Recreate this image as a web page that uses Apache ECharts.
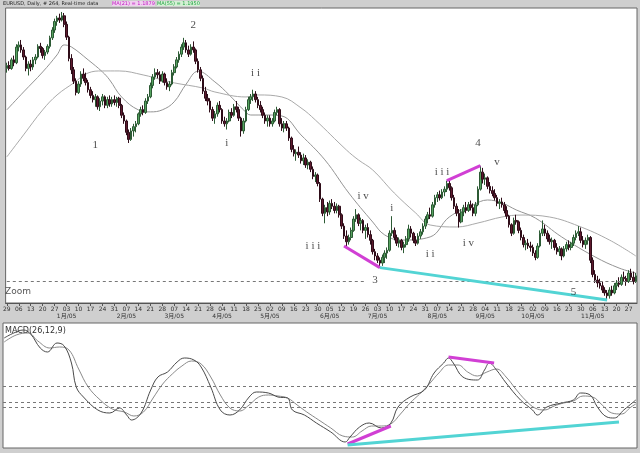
<!DOCTYPE html>
<html><head><meta charset="utf-8">
<script src="https://cdn.jsdelivr.net/npm/echarts@6/dist/echarts.min.js"></script>
<style>html,body{margin:0;padding:0;background:#cfcfcf}#c{width:640px;height:453px}</style>
</head><body><div id="c"></div><script>
// weekly tick labels (one per 5 bars) and month labels
const weekLabels = ['29','06','13','20','27','03','10','17','24','31','07','14','21','28','07','14','21','28','04','11','18','25','02','09','16','23','30','05','12','19','26','03','10','17','24','31','07','14','21','28','04','11','18','25','02','09','16','23','30','06','13','20','27'];
const monthWeeks = [5,10,14,18,22,27,31,36,40,44,49];
const monthNames = ['1月/05','2月/05','3月/05','4月/05','5月/05','6月/05','7月/05','8月/05','9月/05','10月/05','11月/05'];

const opens = [1.3270,1.3290,1.3270,1.3330,1.3310, 1.3420,1.3435,1.3400,1.3350,1.3270, 1.3300,1.3280,1.3330,1.3350,1.3425, 1.3410,1.3360,1.3385,1.3425,1.3485, 1.3540,1.3600,1.3625,1.3610,1.3640, 1.3580,1.3490,1.3340,1.3260,1.3180, 1.3100,1.3160,1.3230,1.3200,1.3170, 1.3120,1.3080,1.3050,1.3070,1.3000, 1.3040,1.3070,1.3010,1.3050,1.3020, 1.3050,1.3030,1.3060,1.3010,1.2940, 1.2900,1.2820,1.2770,1.2830,1.2860, 1.2880,1.2950,1.2980,1.2960,1.3040, 1.3070,1.3150,1.3210,1.3240,1.3225, 1.3180,1.3230,1.3170,1.3140,1.3160, 1.3240,1.3280,1.3330,1.3370,1.3420, 1.3450,1.3400,1.3370,1.3420,1.3400, 1.3320,1.3260,1.3200,1.3110,1.3060, 1.3040,1.2980,1.2920,1.2950,1.3010, 1.2980,1.2900,1.2880,1.2900,1.2960, 1.2940,1.3000,1.2980,1.2920,1.2830, 1.2900,1.2980,1.3050,1.3070,1.3090, 1.3050,1.3010,1.2980,1.2940,1.2900, 1.2920,1.2880,1.2900,1.2960,1.2980, 1.2880,1.2850,1.2880,1.2850,1.2780, 1.2700,1.2670,1.2680,1.2660,1.2620, 1.2640,1.2590,1.2610,1.2560,1.2510, 1.2520,1.2460,1.2350,1.2250,1.2290, 1.2260,1.2320,1.2300,1.2270,1.2300, 1.2240,1.2160,1.2090,1.2050,1.2080, 1.2130,1.2210,1.2240,1.2180,1.2200, 1.2130,1.2150,1.2100,1.2060,1.1980, 1.1950,1.1920,1.1900,1.1940,1.1970, 1.1990,1.2110,1.2130,1.2080,1.2040, 1.2060,1.2010,1.2030,1.2070,1.2140, 1.2110,1.2060,1.2040,1.2090,1.2120, 1.2160,1.2210,1.2240,1.2230,1.2310, 1.2360,1.2380,1.2360,1.2400,1.2420, 1.2460,1.2430,1.2360,1.2300,1.2250, 1.2190,1.2260,1.2290,1.2270,1.2310, 1.2290,1.2250,1.2310,1.2420,1.2540, 1.2490,1.2500,1.2440,1.2410,1.2390, 1.2360,1.2320,1.2330,1.2310,1.2270, 1.2230,1.2170,1.2110,1.2200,1.2190, 1.2130,1.2080,1.2030,1.2040,1.2020, 1.2010,1.1970,1.1940,1.2020,1.2110, 1.2140,1.2110,1.2070,1.2050,1.2060, 1.2010,1.1980,1.2000,1.1950,1.2000, 1.2030,1.2010,1.2040,1.2080,1.2110, 1.2120,1.2060,1.2030,1.2060,1.2080, 1.1920,1.1820,1.1780,1.1760,1.1740, 1.1710,1.1690,1.1670,1.1710,1.1690, 1.1740,1.1760,1.1750,1.1800,1.1790, 1.1770,1.1830,1.1800,1.1770];
const closes = [1.3290,1.3270,1.3330,1.3310,1.3420, 1.3435,1.3400,1.3350,1.3270,1.3300, 1.3280,1.3330,1.3350,1.3425,1.3410, 1.3360,1.3385,1.3425,1.3485,1.3540, 1.3600,1.3625,1.3610,1.3640,1.3580, 1.3490,1.3340,1.3260,1.3180,1.3100, 1.3160,1.3230,1.3200,1.3170,1.3120, 1.3080,1.3050,1.3070,1.3000,1.3040, 1.3070,1.3010,1.3050,1.3020,1.3050, 1.3030,1.3060,1.3010,1.2940,1.2900, 1.2820,1.2770,1.2830,1.2860,1.2880, 1.2950,1.2980,1.2960,1.3040,1.3070, 1.3150,1.3210,1.3240,1.3225,1.3180, 1.3230,1.3170,1.3140,1.3160,1.3240, 1.3280,1.3330,1.3370,1.3420,1.3450, 1.3400,1.3370,1.3420,1.3400,1.3320, 1.3260,1.3200,1.3110,1.3060,1.3040, 1.2980,1.2920,1.2950,1.3010,1.2980, 1.2900,1.2880,1.2900,1.2960,1.2940, 1.3000,1.2980,1.2920,1.2830,1.2900, 1.2980,1.3050,1.3070,1.3090,1.3050, 1.3010,1.2980,1.2940,1.2900,1.2920, 1.2880,1.2900,1.2960,1.2980,1.2880, 1.2850,1.2880,1.2850,1.2780,1.2700, 1.2670,1.2680,1.2660,1.2620,1.2640, 1.2590,1.2610,1.2560,1.2510,1.2520, 1.2460,1.2350,1.2250,1.2290,1.2260, 1.2320,1.2300,1.2270,1.2300,1.2240, 1.2160,1.2090,1.2050,1.2080,1.2130, 1.2210,1.2240,1.2180,1.2200,1.2130, 1.2150,1.2100,1.2060,1.1980,1.1950, 1.1920,1.1900,1.1940,1.1970,1.1990, 1.2110,1.2130,1.2080,1.2040,1.2060, 1.2010,1.2030,1.2070,1.2140,1.2110, 1.2060,1.2040,1.2090,1.2120,1.2160, 1.2210,1.2240,1.2230,1.2310,1.2360, 1.2380,1.2360,1.2400,1.2420,1.2460, 1.2430,1.2360,1.2300,1.2250,1.2190, 1.2260,1.2290,1.2270,1.2310,1.2290, 1.2250,1.2310,1.2420,1.2540,1.2490, 1.2500,1.2440,1.2410,1.2390,1.2360, 1.2320,1.2330,1.2310,1.2270,1.2230, 1.2170,1.2110,1.2200,1.2190,1.2130, 1.2080,1.2030,1.2040,1.2020,1.2010, 1.1970,1.1940,1.2020,1.2110,1.2140, 1.2110,1.2070,1.2050,1.2060,1.2010, 1.1980,1.2000,1.1950,1.2000,1.2030, 1.2010,1.2040,1.2080,1.2110,1.2120, 1.2060,1.2030,1.2060,1.2080,1.1920, 1.1820,1.1780,1.1760,1.1740,1.1710, 1.1690,1.1670,1.1710,1.1690,1.1740, 1.1760,1.1750,1.1800,1.1790,1.1770, 1.1830,1.1800,1.1770,1.1810];
const lows = [1.3240,1.3255,1.3260,1.3285,1.3300, 1.3390,1.3380,1.3330,1.3250,1.3220, 1.3250,1.3260,1.3300,1.3340,1.3380, 1.3340,1.3330,1.3370,1.3410,1.3470, 1.3520,1.3570,1.3590,1.3600,1.3560, 1.3470,1.3320,1.3230,1.3160,1.3080, 1.3090,1.3140,1.3180,1.3150,1.3100, 1.3060,1.3030,1.3000,1.2980,1.2970, 1.3010,1.2990,1.2990,1.3000,1.3000, 1.3010,1.3000,1.2990,1.2920,1.2880, 1.2800,1.2745,1.2760,1.2790,1.2820, 1.2870,1.2930,1.2940,1.2950,1.3020, 1.3060,1.3130,1.3190,1.3200,1.3160, 1.3170,1.3150,1.3120,1.3110,1.3150, 1.3220,1.3270,1.3310,1.3350,1.3400, 1.3380,1.3350,1.3360,1.3380,1.3300, 1.3240,1.3180,1.3090,1.3040,1.3010, 1.2960,1.2900,1.2880,1.2930,1.2960, 1.2880,1.2860,1.2840,1.2890,1.2920, 1.2930,1.2960,1.2900,1.2790,1.2810, 1.2890,1.2970,1.3020,1.3040,1.3030, 1.2990,1.2960,1.2920,1.2880,1.2860, 1.2860,1.2860,1.2890,1.2940,1.2860, 1.2830,1.2820,1.2830,1.2760,1.2680, 1.2650,1.2620,1.2640,1.2600,1.2590, 1.2570,1.2560,1.2540,1.2490,1.2470, 1.2440,1.2330,1.2230,1.2180,1.2230, 1.2240,1.2280,1.2250,1.2250,1.2220, 1.2140,1.2070,1.2020,1.2030,1.2060, 1.2120,1.2190,1.2160,1.2130,1.2110, 1.2070,1.2080,1.2030,1.1960,1.1920, 1.1900,1.1868,1.1880,1.1900,1.1930, 1.1980,1.2090,1.2060,1.2020,1.2010, 1.1990,1.1970,1.2010,1.2050,1.2080, 1.2040,1.2020,1.2030,1.2070,1.2100, 1.2140,1.2180,1.2210,1.2220,1.2290, 1.2330,1.2340,1.2350,1.2370,1.2400, 1.2410,1.2340,1.2280,1.2230,1.2150, 1.2180,1.2230,1.2250,1.2260,1.2270, 1.2230,1.2230,1.2300,1.2410,1.2460, 1.2450,1.2420,1.2390,1.2370,1.2340, 1.2300,1.2280,1.2290,1.2250,1.2210, 1.2150,1.2090,1.2100,1.2170,1.2110, 1.2060,1.2010,1.1990,1.2000,1.1980, 1.1950,1.1920,1.1930,1.2010,1.2090, 1.2090,1.2050,1.2030,1.2000,1.1990, 1.1960,1.1950,1.1920,1.1940,1.1980, 1.1990,1.1990,1.2020,1.2060,1.2090, 1.2040,1.2010,1.2000,1.2030,1.1900, 1.1800,1.1760,1.1730,1.1720,1.1690, 1.1670,1.1640,1.1650,1.1670,1.1680, 1.1710,1.1730,1.1740,1.1770,1.1740, 1.1760,1.1780,1.1750,1.1760];
const highs = [1.3310,1.3320,1.3345,1.3360,1.3440, 1.3460,1.3470,1.3420,1.3360,1.3320, 1.3330,1.3350,1.3370,1.3440,1.3450, 1.3420,1.3400,1.3440,1.3500,1.3560, 1.3620,1.3640,1.3655,1.3667,1.3660, 1.3600,1.3500,1.3370,1.3280,1.3200, 1.3180,1.3250,1.3270,1.3240,1.3190, 1.3140,1.3110,1.3090,1.3080,1.3060, 1.3090,1.3080,1.3070,1.3080,1.3070, 1.3080,1.3070,1.3070,1.3020,1.2960, 1.2910,1.2840,1.2850,1.2880,1.2900, 1.2960,1.3000,1.3010,1.3060,1.3090, 1.3170,1.3230,1.3270,1.3265,1.3250, 1.3250,1.3240,1.3200,1.3180,1.3260, 1.3300,1.3350,1.3390,1.3440,1.3485, 1.3470,1.3430,1.3440,1.3460,1.3410, 1.3340,1.3280,1.3220,1.3140,1.3090, 1.3060,1.3000,1.2970,1.3030,1.3040, 1.2990,1.2930,1.2920,1.2980,1.2990, 1.3020,1.3040,1.3000,1.2930,1.2920, 1.3000,1.3070,1.3090,1.3120,1.3110, 1.3070,1.3040,1.3000,1.2960,1.2940, 1.2940,1.2920,1.2980,1.3000,1.2990, 1.2920,1.2900,1.2900,1.2860,1.2790, 1.2730,1.2700,1.2720,1.2680,1.2670, 1.2660,1.2630,1.2620,1.2580,1.2540, 1.2530,1.2470,1.2360,1.2310,1.2330, 1.2340,1.2350,1.2330,1.2320,1.2310, 1.2250,1.2180,1.2130,1.2100,1.2150, 1.2230,1.2280,1.2250,1.2220,1.2210, 1.2170,1.2180,1.2130,1.2070,1.2000, 1.1970,1.1940,1.1960,1.1990,1.2010, 1.2130,1.2230,1.2150,1.2100,1.2080, 1.2070,1.2050,1.2090,1.2170,1.2160, 1.2120,1.2090,1.2110,1.2140,1.2180, 1.2230,1.2260,1.2290,1.2330,1.2380, 1.2400,1.2410,1.2420,1.2440,1.2480, 1.2480,1.2440,1.2380,1.2320,1.2280, 1.2280,1.2310,1.2330,1.2330,1.2340, 1.2320,1.2330,1.2440,1.2585,1.2570, 1.2530,1.2510,1.2470,1.2440,1.2420, 1.2380,1.2350,1.2360,1.2330,1.2300, 1.2240,1.2180,1.2220,1.2240,1.2200, 1.2150,1.2100,1.2060,1.2070,1.2050, 1.2030,1.1990,1.2040,1.2130,1.2200, 1.2170,1.2130,1.2100,1.2080,1.2070, 1.2040,1.2020,1.2010,1.2020,1.2050, 1.2060,1.2050,1.2100,1.2130,1.2160, 1.2150,1.2090,1.2080,1.2100,1.2090, 1.1940,1.1850,1.1810,1.1790,1.1770, 1.1730,1.1710,1.1730,1.1740,1.1760, 1.1780,1.1800,1.1820,1.1840,1.1810, 1.1850,1.1860,1.1840,1.1830];

// moving averages: [bar, price]
const fastMA = [[0,1.2978],[7,1.3104],[15,1.3245],[21,1.3365],[24,1.3435],[27,1.3421],[34,1.3330],[40,1.3245],[43,1.3189],[48,1.3069],[55,1.2978],[60,1.2964],[65,1.2978],[70,1.3035],[75,1.3160],[80,1.3250],[87,1.3175],[93,1.3083],[99,1.2978],[102,1.2942],[109,1.2942],[115,1.2935],[123,1.2802],[133,1.2626],[143,1.2393],[153,1.2189],[158,1.2098],[165,1.2062],[177,1.2084],[185,1.2224],[195,1.2309],[201,1.2344],[207,1.2323],[213,1.2274],[221,1.2217],[232,1.2084],[246,1.1943],[256,1.1865],[263,1.1830]];
const slowMA = [[0,1.2647],[7,1.2802],[15,1.2978],[21,1.3083],[28,1.3168],[34,1.3238],[40,1.3252],[47,1.3252],[57,1.3224],[65,1.3189],[70,1.3168],[82,1.3132],[87,1.3104],[100,1.3069],[105,1.3083],[115,1.3069],[123,1.2992],[129,1.2907],[142,1.2696],[147,1.2626],[153,1.2555],[162,1.2393],[171,1.2252],[177,1.2168],[188,1.2154],[197,1.2182],[207,1.2224],[215,1.2238],[227,1.2224],[239,1.2161],[252,1.2062],[263,1.1950]];

// MACD panel (pips): [bar, value]
const macdMain = [[0,128],[4,138],[8,144],[11,136],[15,108],[18,100],[22,118],[25,112],[28,78],[30,30],[33,10],[39,-16],[44,-22],[48,-12],[51,-26],[53,-36],[57,-22],[61,24],[64,50],[68,60],[72,80],[75,88],[79,84],[82,70],[86,30],[90,-16],[94,-26],[98,-16],[102,10],[105,20],[110,18],[114,10],[118,8],[120,-16],[125,-26],[130,-42],[136,-60],[142,-80],[144,-70],[148,-50],[152,-42],[157,-52],[161,-42],[164,-10],[169,10],[175,24],[179,58],[183,78],[185,88],[187,78],[191,50],[197,44],[200,64],[202,78],[205,64],[209,38],[215,4],[220,-16],[222,-26],[226,-10],[232,-2],[237,4],[240,18],[244,14],[247,-10],[251,-30],[254,-32],[258,-16],[262,0],[263,4]];
const macdSignal = [[0,120],[5,134],[10,138],[14,122],[19,108],[23,110],[27,104],[31,66],[35,30],[40,4],[45,-14],[50,-20],[54,-28],[58,-20],[62,8],[66,36],[70,56],[74,72],[78,82],[82,76],[86,50],[90,14],[94,-12],[98,-18],[102,-6],[106,10],[110,14],[114,12],[118,8],[122,-6],[126,-20],[131,-36],[136,-52],[141,-68],[145,-70],[149,-58],[153,-48],[157,-48],[161,-44],[165,-24],[169,-2],[173,16],[177,36],[181,58],[185,74],[189,74],[193,60],[197,52],[201,60],[205,66],[209,50],[213,26],[217,4],[221,-12],[225,-16],[229,-8],[233,-2],[237,2],[241,12],[245,10],[249,-6],[253,-22],[257,-24],[261,-10],[263,-4]];
const macdLevels = [32, 0, -10];
const zoomLevel = 1.1774;

// annotation lines
const pinkMain1 = [[141,1.2020],[156,1.1868]];
const pinkMain2 = [[184,1.2480],[198,1.2585]];
const cyanMain = [[156,1.1868],[251,1.1640]];
const pinkMacd1 = [[143,-84],[161,-48]];
const pinkMacd2 = [[185,90],[204,78]];
const cyanMacd = [[143,-86],[256,-40]];

// wave labels
const waveNames = ['1','2','i','i i','i i i','i v','3','i','i i','i i i','i v','4','v','5'];
const waveBars = [37,78,92,104,128,149,154,161,177,182,193,197,205,237];
const wavePrices = [1.2731,1.3576,1.2745,1.3238,1.2020,1.2372,1.1781,1.2288,1.1964,1.2541,1.2041,1.2745,1.2612,1.1696];

const categories = opens.map((_, i) => String(i));
const candles = opens.map((o, i) => [o, closes[i], lows[i], highs[i]]);
const waves = waveNames.map((n, i) => ({ name: n, value: [waveBars[i], wavePrices[i]] }));

const chart = echarts.init(document.getElementById('c'), null, { renderer: 'canvas' });
const thick = (data, color, xi) => ({ type: 'line', xAxisIndex: xi, yAxisIndex: xi, data, symbol: 'none', silent: true, z: 5, lineStyle: { color, width: 3 } });
chart.setOption({
  animation: false,
  backgroundColor: '#cfcfcf',
  grid: [
    { left: 3, right: 3, top: 8, height: 295, show: true, backgroundColor: '#fff', borderColor: '#666', borderWidth: 1 },
    { left: 3, right: 3, top: 323, height: 125, show: true, backgroundColor: '#fff', borderColor: '#666', borderWidth: 1 }
  ],
  xAxis: [
    { type: 'category', gridIndex: 0, data: categories, boundaryGap: true,
      axisLine: { show: true, lineStyle: { color: '#555' } },
      axisTick: { show: true, alignWithLabel: true, interval: (i) => i % 5 === 0, length: 3, lineStyle: { color: '#555' } },
      axisLabel: { show: true, interval: (i) => i % 5 === 0, fontSize: 6, lineHeight: 7, margin: 3, color: '#333',
        fontFamily: 'DejaVu Sans, Noto Sans CJK SC',
        formatter: (v) => { const w = Number(v) / 5; const m = monthWeeks.indexOf(w); return weekLabels[w] + (m >= 0 ? '\n' + monthNames[m] : ''); } },
      splitLine: { show: false } },
    { type: 'category', gridIndex: 1, data: categories, boundaryGap: true, show: false }
  ],
  yAxis: [
    { type: 'value', gridIndex: 0, min: 1.1619, max: 1.3695, show: false, splitLine: { show: false } },
    { type: 'value', gridIndex: 1, min: -92, max: 158, show: false, splitLine: { show: false } }
  ],
  series: [
    { type: 'candlestick', xAxisIndex: 0, yAxisIndex: 0, data: candles, barWidth: 2.1, z: 3,
      itemStyle: { color: '#55a35f', color0: '#5e1a2e', borderColor: '#2c5a34', borderColor0: '#2e0c18', borderWidth: 1 },
      markLine: { silent: true, symbol: 'none', label: { show: false }, lineStyle: { color: '#777', type: [3, 3], width: 1 },
        data: [[{ coord: [0, zoomLevel] }, { coord: [150, zoomLevel] }], [{ coord: [165, zoomLevel] }, { coord: [263, zoomLevel] }]] } },
    { type: 'line', xAxisIndex: 0, yAxisIndex: 0, data: fastMA, smooth: 0.4, symbol: 'none', silent: true, z: 2, lineStyle: { color: '#949494', width: 1 } },
    { type: 'line', xAxisIndex: 0, yAxisIndex: 0, data: slowMA, smooth: 0.4, symbol: 'none', silent: true, z: 2, lineStyle: { color: '#aaaaaa', width: 1 } },
    thick(pinkMain1, '#d13fd4', 0), thick(pinkMain2, '#d13fd4', 0), thick(cyanMain, '#52d4d4', 0),
    { type: 'scatter', xAxisIndex: 0, yAxisIndex: 0, data: waves, symbolSize: 8, silent: true, z: 6,
      itemStyle: { color: 'rgba(0,0,0,0)' },
      label: { show: true, position: 'inside', formatter: '{b}', fontFamily: 'Liberation Serif', fontSize: 11, color: '#222' } },
    { type: 'line', xAxisIndex: 1, yAxisIndex: 1, data: macdMain, smooth: 0.4, symbol: 'none', silent: true, z: 3, lineStyle: { color: '#4a4a4a', width: 1 },
      markLine: { silent: true, symbol: 'none', label: { show: false }, lineStyle: { color: '#777', type: [3, 3], width: 1 },
        data: macdLevels.map(v => ({ yAxis: v })) } },
    { type: 'line', xAxisIndex: 1, yAxisIndex: 1, data: macdSignal, smooth: 0.4, symbol: 'none', silent: true, z: 2, lineStyle: { color: '#8a8a8a', width: 1 } },
    thick(pinkMacd1, '#d13fd4', 1), thick(pinkMacd2, '#d13fd4', 1), thick(cyanMacd, '#52d4d4', 1)
  ],
  graphic: [
    { type: 'text', left: 3, top: 1, style: { text: 'EURUSD, Daily, # 264, Real-time data', fontSize: 5, fill: '#222', fontFamily: 'DejaVu Sans' } },
    { type: 'text', left: 112, top: 1, style: { text: 'MA(21) = 1.1879', fontSize: 5, fill: '#c020c0', backgroundColor: '#f0d0f0', fontFamily: 'DejaVu Sans' } },
    { type: 'text', left: 157, top: 1, style: { text: 'MA(55) = 1.1950', fontSize: 5, fill: '#20a040', backgroundColor: '#d4f0d4', fontFamily: 'DejaVu Sans' } },
    { type: 'text', left: 5, top: 287, style: { text: 'Zoom', fontSize: 9, fill: '#555', fontFamily: 'DejaVu Sans' } },
    { type: 'text', left: 5, top: 327, style: { text: 'MACD(26,12,9)', fontSize: 8, fill: '#333', fontFamily: 'DejaVu Sans' } }
  ]
});
</script></body></html>
